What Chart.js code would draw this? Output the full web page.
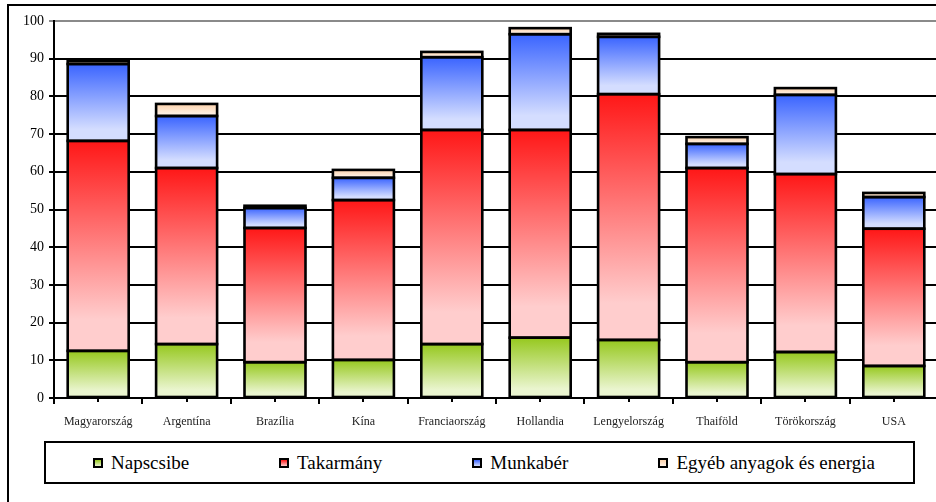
<!DOCTYPE html>
<html>
<head>
<meta charset="utf-8">
<script src="https://cdn.jsdelivr.net/npm/chart.js@4.4.1/dist/chart.umd.min.js"></script>
<style>
  body { margin: 0; background: #fff; overflow: hidden; width: 936px; height: 502px; position: relative; }
  #frame { position: absolute; left: 7px; top: 4px; width: 980px; height: 600px; border: 2px solid #000; box-shadow: 1px 1px 0 #aaa; }
  #c { position: absolute; left: 0; top: 0; }
  #legend { position: absolute; left: 44px; top: 441px; width: 871px; height: 43px; box-sizing: border-box;
            border: 2px solid #000; display: flex; align-items: center; padding-left: 47px; gap: 90px;
            font: 19px "Liberation Serif", "Tinos", serif; color: #000; }
  #legend .item { display: flex; align-items: center; white-space: nowrap; }
  #legend .box { width: 10px; height: 10px; box-sizing: border-box; border: 2px solid #000; margin-right: 8px; }
</style>
</head>
<body>
<div id="frame"></div>
<canvas id="c" width="946" height="440"></canvas>
<div id="legend"></div>
<script>
// categories and series
const countries = ['Magyarország', 'Argentína', 'Brazília', 'Kína', 'Franciaország',
                   'Hollandia', 'Lengyelország', 'Thaiföld', 'Törökország', 'USA'];
const seriesNames = ['Napscsibe', 'Takarmány', 'Munkabér', 'Egyéb anyagok és energia'];
const napscsibe = [12.5, 14.3, 9.5, 10.1, 14.3, 16.0, 15.4, 9.5, 12.2, 8.5];
const takarmany = [55.7, 46.7, 35.6, 42.4, 56.8, 55.1, 65.2, 51.5, 47.2, 36.4];
const munkaber  = [20.4, 13.8, 5.3, 5.9, 19.3, 25.4, 15.2, 6.4, 21.0, 8.4];
const egyeb     = [0.8, 3.2, 0.6, 2.1, 1.4, 1.6, 0.8, 1.8, 1.8, 1.1];
const yTicks = [0, 10, 20, 30, 40, 50, 60, 70, 80, 90, 100];

const series = [napscsibe, takarmany, munkaber, egyeb];
const serifFont = '"Liberation Serif", "Tinos", serif';
// top colour, pale colour for each series
const gradColors = [
    ['#96c81e', '#eaf5cf'],
    ['#ff1717', '#ffcdcd'],
    ['#3a64ff', '#d4ddff'],
    ['#fcd2ac', '#fff1e4']
];

// vertical gradient per bar segment, from its top to its base
function segmentGradient(dsIndex) {
    return function (ctx) {
        const chart = ctx.chart;
        const yScale = chart.scales.y;
        const cols = gradColors[dsIndex];
        if (!chart.chartArea || !yScale || ctx.type !== 'data') return cols[0];
        const i = ctx.dataIndex;
        let base = 0;
        for (let d = 0; d < dsIndex; d++) base += series[d][i];
        const top = base + series[dsIndex][i];
        const y0 = yScale.getPixelForValue(top);
        const y1 = yScale.getPixelForValue(base);
        if (!isFinite(y0) || !isFinite(y1) || y0 === y1) return cols[0];
        const g = chart.ctx.createLinearGradient(0, y0, 0, y1);
        g.addColorStop(0, cols[0]);
        g.addColorStop(0.85, cols[1]);
        g.addColorStop(1, cols[1]);
        return g;
    };
}

// black outline around each segment, centred on the edges like the original
const outlinePlugin = {
    id: 'outline',
    afterDatasetsDraw(chart) {
        const ctx = chart.ctx;
        ctx.save();
        ctx.strokeStyle = '#000';
        ctx.lineWidth = 2.6;
        chart.data.datasets.forEach((ds, d) => {
            chart.getDatasetMeta(d).data.forEach(bar => {
                const left = bar.x - bar.width / 2;
                ctx.strokeRect(left, bar.y, bar.width, bar.base - bar.y);
            });
        });
        ctx.restore();
    },
    afterDraw(chart) {
        // small tick under each category centre
        const ctx = chart.ctx;
        const x = chart.scales.x;
        ctx.save();
        ctx.strokeStyle = '#000';
        ctx.lineWidth = 2;
        countries.forEach((c, i) => {
            const px = Math.round(x.getPixelForValue(i));
            ctx.beginPath();
            ctx.moveTo(px, x.top);
            ctx.lineTo(px, x.top + 4);
            ctx.stroke();
        });
        ctx.restore();
    }
};

const datasets = series.map((vals, d) => ({
    label: seriesNames[d],
    data: vals,
    backgroundColor: segmentGradient(d),
    borderWidth: 0,
    barPercentage: 0.69,
    categoryPercentage: 1.0
}));

new Chart(document.getElementById('c'), {
    type: 'bar',
    data: { labels: countries, datasets: datasets },
    plugins: [outlinePlugin],
    options: {
        responsive: false,
        animation: false,
        layout: { padding: { top: 21, right: 8, left: 0, bottom: 0 } },
        plugins: { legend: { display: false }, tooltip: { enabled: false } },
        scales: {
            x: {
                stacked: true,
                afterFit: (scale) => { scale.height = 42; },
                border: { color: '#000', width: 2 },
                grid: { offset: true, drawOnChartArea: false, drawTicks: true, tickLength: 6, color: '#000', lineWidth: 2 },
                ticks: { color: '#222', padding: 11, maxRotation: 0, autoSkip: false,
                         font: { family: serifFont, size: 12 } }
            },
            y: {
                stacked: true,
                min: 0,
                max: 100,
                afterFit: (scale) => { scale.width = 54; },
                afterBuildTicks: (scale) => { scale.ticks = yTicks.map(v => ({ value: v })); },
                border: { color: '#000', width: 2 },
                grid: {
                    color: (ctx) => (ctx.tick && ctx.tick.value === 100) ? '#8a8a8a' : '#000',
                    lineWidth: 2,
                    tickLength: 5
                },
                ticks: { color: '#000', padding: 5,
                         font: { family: serifFont, size: 14 } }
            }
        }
    }
});

// legend box under the chart
const legend = document.getElementById('legend');
seriesNames.forEach((name, d) => {
    const item = document.createElement('div');
    item.className = 'item';
    const box = document.createElement('span');
    box.className = 'box';
    box.style.background = 'linear-gradient(to bottom, ' + gradColors[d][0] + ', ' + gradColors[d][1] + ')';
    const txt = document.createElement('span');
    txt.textContent = name;
    item.appendChild(box);
    item.appendChild(txt);
    legend.appendChild(item);
});
</script>
</body>
</html>
